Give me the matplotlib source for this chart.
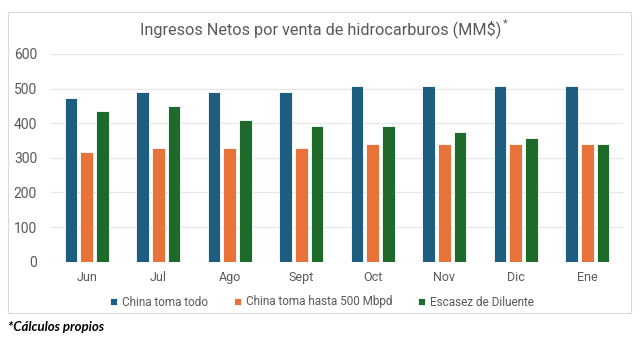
import matplotlib
matplotlib.use("Agg")
import matplotlib.pyplot as plt
from matplotlib import font_manager
from matplotlib.patches import Rectangle
import numpy as np

months = ["Jun", "Jul", "Ago", "Sept", "Oct", "Nov", "Dic", "Ene"]
china_todo = [473, 491, 491, 491, 508, 508, 508, 508]
china_500 = [317, 328, 328, 328, 341, 341, 341, 341]
escasez = [434, 450, 409, 393, 391, 375, 357, 341]
series_names = ["China toma todo", "China toma hasta 500 Mbpd", "Escasez de Diluente"]
yticks = [0, 100, 200, 300, 400, 500, 600]

colors = ["#1D5E80", "#E8733A", "#1E6A2A"]

avail = {f.name for f in font_manager.fontManager.ttflist}
narrow = "Liberation Sans Narrow" if "Liberation Sans Narrow" in avail else "Roboto"
main_font = [narrow, "DejaVu Sans"]

fig = plt.figure(figsize=(6.4, 3.43), dpi=100)
fig.patch.set_facecolor("white")

# chart border
fig.add_artist(Rectangle((8 / 640, 1 - 313 / 343), 623 / 640, 301 / 343,
                         transform=fig.transFigure, fill=False,
                         edgecolor="#D9D9D9", linewidth=0.8))

ax = fig.add_axes([51 / 640, 81.3 / 343, 572 / 640, 207.8 / 343])
x = np.arange(len(months))
w = 0.175
off = 0.223
for i, (vals, c, name) in enumerate(zip([china_todo, china_500, escasez], colors, series_names)):
    ax.bar(x + (i - 1) * off, vals, width=w, color=c, edgecolor="white",
           linewidth=0.6, label=name, zorder=3)

ax.set_xlim(-0.5, len(months) - 0.5)
ax.set_ylim(0, 600)
ax.set_yticks(yticks)
ax.set_yticklabels([str(v) for v in yticks], family=main_font, fontsize=10, color="#595959")
ax.set_xticks(x)
ax.set_xticklabels(months, family=main_font, fontsize=9, color="#595959")
ax.tick_params(axis="both", length=0)
ax.tick_params(axis="y", pad=10)
ax.tick_params(axis="x", pad=7)
ax.grid(axis="y", color="#E6E6E6", linewidth=0.9, zorder=0)
for s in ax.spines.values():
    s.set_visible(False)
ax.set_axisbelow(True)

title = fig.text(0.5 + 1 / 640, 1 - 29 / 343, "Ingresos Netos por venta de hidrocarburos (MM$)",
                 ha="center", va="center", family=main_font, fontsize=11.7, color="#595959")
fig.canvas.draw()
bb = title.get_window_extent(fig.canvas.get_renderer())
fig.text((bb.x1 + 1) / 640, (bb.y1 - 3) / 343, "*", ha="left", va="center",
         family=main_font, fontsize=8, color="#595959")

handles, labels = ax.get_legend_handles_labels()
leg = fig.legend(handles, labels, loc="center", bbox_to_anchor=(0.5 + 2 / 640, 1 - 302 / 343),
                 ncol=3, frameon=False, prop={"family": main_font, "size": 8.5},
                 handlelength=0.6, handleheight=0.6, handletextpad=0.4, columnspacing=2.2)
for t in leg.get_texts():
    t.set_color("#595959")

fig.text(8 / 640, 1 - 327 / 343, "*Cálculos propios", ha="left", va="center",
         family=["Lato", "DejaVu Sans"], fontsize=9.5, fontweight="bold", fontstyle="italic",
         color="black")

fig.savefig("out.png", dpi=100, facecolor="white")
